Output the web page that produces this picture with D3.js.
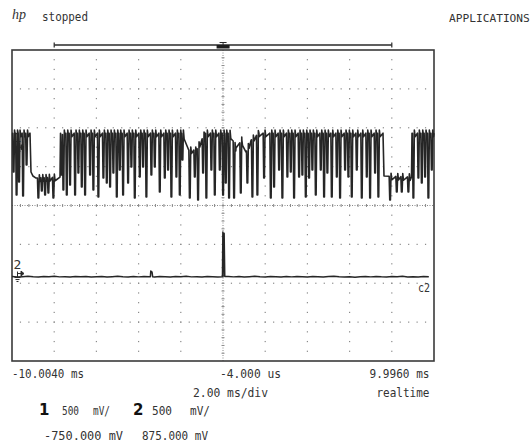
<!DOCTYPE html>
<html>
<head>
<meta charset="utf-8">
<script src="https://cdn.jsdelivr.net/npm/d3@7"></script>
<style>
  body { margin: 0; background: #fff; }
  svg text { font-family: "DejaVu Sans Mono", monospace; font-size: 13px; fill: #333; }
</style>
</head>
<body>
<svg id="scope" width="532" height="447"></svg>
<script>
// ---- Timebase / channel settings ----
const timeRange = [-10.004, 9.996];   // ms at left / right screen edge
const timePerDiv = 2;                 // ms/div
const ch1Scale = 500, ch1Offset = -750; // mV/div, mV at screen centre
const ch2Scale = 500, ch2Offset = 875;

// ---- Channel 1: level envelope (ms, mV) ----
const ch1LevelT = [-10.004, -9.151, -9.104, -9.009, -8.867, -7.729, -7.705, -1.88, -1.63, -1.26, -0.857,
                   0.328, 0.612, 0.89, 1.086, 1.33, 1.70, 7.579, 7.626, 8.930, 8.953, 9.996];
const ch1LevelV = [180, 180, -319, -371, -397, -384, 180, 180, -37, -37, 180,
                   180, -11, 92, -63, 92, 180, 180, -371, -384, 180, 180];

// ---- Channel 1: negative-going pulses (centre ms, lowest mV) ----
const ch1PulseT = [-9.933, -9.791, -9.672, -9.483, -9.317,
  -8.758, -8.596, -8.440, -8.284, -8.047,
  -7.66, -7.573, -7.412, -7.255, -7.018, -6.862, -6.701, -6.544, -6.307, -6.151,
  -5.914, -5.677, -5.516, -5.359, -5.203, -5.042, -4.900, -4.743, -4.506, -4.350,
  -4.189, -3.952, -3.796, -3.639, -3.402, -3.241, -3.004, -2.767, -2.611, -2.454,
  -2.217, -2.056, -1.93, -1.582, -1.345, -1.189, -0.952, -0.796, -0.559, -0.397,
  -0.161, -0.004, 0.124, 0.280, 0.517, 0.835, 1.148, 1.385, 1.622, 1.939,
  2.257, 2.413, 2.650, 2.806, 3.043, 3.204, 3.361, 3.598, 3.754, 3.915,
  4.072, 4.228, 4.389, 4.626, 4.783, 4.939, 5.148, 5.385, 5.541, 5.778,
  5.934, 6.095, 6.332, 6.569, 6.806, 6.963, 7.200, 7.356,
  7.911, 8.228, 8.465, 8.778,
  9.015, 9.252, 9.413, 9.569, 9.726, 9.887];
const ch1PulseV = [-319, -615, -448, -628, -229,
  -654, -564, -615, -589, -654,
  -358, -551, -615, -487, -615, -332, -512, -615, -358, -551,
  -641, -397, -461, -512, -332, -641, -294, -615, -461, -255,
  -654, -384, -255, -641, -358, -255, -576, -397, -294, -641,
  -384, -615, -165, -654, -384, -679, -332, -654, -294, -615,
  -294, -615, -461, -654, -654, -589, -461, -641, -615, -397,
  -654, -512, -294, -654, -384, -319, -654, -384, -358, -641,
  -397, -294, -615, -294, -641, -332, -641, -384, -654, -294,
  -384, -641, -294, -654, -384, -654, -332, -641,
  -679, -576, -576, -576,
  -654, -397, -461, -384, -654, -294];

// ---- Channel 2: baseline every 0.25 ms from -10 ms (mV) ----
const ch2Start = -10, ch2Step = 0.25;
const ch2Base = [
  -38, -44, -40, -35, -42, -46, -39, -41, -36, -43,
  -40, -45, -38, -42, -37, -44, -41, -39, -46, -40,
  -36, -42, -45, -39, -43, -38, -40, -44, -37, -41,
  -45, -39, -42, -36, -43, -40, -46, -38, -41, -44,
  -40, -37, -43, -39, -45, -41, -36, -42, -44, -38,
  -41, -46, -39, -43, -37, -40, -44, -38, -42, -45,
  -39, -36, -42, -44, -40, -47, -41, -38, -43, -37,
  -42, -45, -39, -41, -36, -44, -40, -46, -38, -42,
  -40];
// Channel 2 glitches (ms, peak mV)
const ch2SpikeT = [-3.417, 0.0];
const ch2SpikeV = [33, 534];

// ---- Screen text ----
const timeLabels = ["-10.0040 ms", "-4.000 us", "9.9960 ms"];
const timebaseLabel = "2.00 ms/div";
const modeLabel = "realtime";
const statusLabel = "stopped";
const menuLabel = "APPLICATIONS";

// ---- Layout ----
const svg = d3.select("#scope");
const frame = { x0: 12, x1: 434, y0: 50, y1: 361 };
const gx = d3.scaleLinear().domain([0, 10]).range([frame.x0, frame.x1]);
const gy = d3.scaleLinear().domain([0, 8]).range([frame.y0, frame.y1]);
const x = d3.scaleLinear().domain(timeRange).range([frame.x0, frame.x1]);
const y1 = d3.scaleLinear().domain([ch1Offset - 4 * ch1Scale, ch1Offset + 4 * ch1Scale]).range([frame.y1, frame.y0]);
const y2 = d3.scaleLinear().domain([ch2Offset - 4 * ch2Scale, ch2Offset + 4 * ch2Scale]).range([frame.y1, frame.y0]);

// narrow, tall readout text fitted to a given width
function label(px, py, str, width, anchor) {
  const t = svg.append("text").attr("x", px).attr("y", py).text(str);
  if (anchor) t.attr("text-anchor", anchor);
  if (width) t.attr("textLength", width).attr("lengthAdjust", "spacingAndGlyphs");
  return t;
}

// ---- Graticule ----
const grid = svg.append("g").attr("fill", "#8a8a8a");
const dots = [];
for (let j = 1; j < 10; j++) {
  if (j === 5) continue;
  for (let k = 1; k < 32; k++) dots.push([gx(j), gy(k / 4)]);
}
for (let i = 1; i < 8; i++) {
  if (i === 4) continue;
  for (let m = 1; m < 50; m++) dots.push([gx(m / 5), gy(i)]);
}
grid.selectAll("rect.dot").data(dots).join("rect")
  .attr("class", "dot")
  .attr("x", d => d[0] - 0.6).attr("y", d => d[1] - 0.6)
  .attr("width", 1.2).attr("height", 1.2);

// centre axes: fine dotted line with minor ticks every 1/5 div
const axisG = svg.append("g").attr("stroke", "#8a8a8a").attr("stroke-width", 1);
axisG.append("line").attr("x1", gx(0)).attr("x2", gx(10)).attr("y1", gy(4)).attr("y2", gy(4))
  .attr("stroke-dasharray", "1,1.5");
axisG.append("line").attr("x1", gx(5)).attr("x2", gx(5)).attr("y1", gy(0)).attr("y2", gy(8))
  .attr("stroke-dasharray", "1,1.5");
axisG.selectAll("line.hx").data(d3.range(1, 50)).join("line").attr("class", "hx")
  .attr("x1", m => gx(m / 5)).attr("x2", m => gx(m / 5))
  .attr("y1", gy(4) - 1.5).attr("y2", gy(4) + 1.5);
axisG.selectAll("line.vy").data(d3.range(1, 40)).join("line").attr("class", "vy")
  .attr("y1", k => gy(k / 5)).attr("y2", k => gy(k / 5))
  .attr("x1", gx(5) - 1.5).attr("x2", gx(5) + 1.5);

// ---- Frame ----
svg.append("rect")
  .attr("x", frame.x0).attr("y", frame.y0)
  .attr("width", frame.x1 - frame.x0).attr("height", frame.y1 - frame.y0)
  .attr("fill", "none").attr("stroke", "#3a3a3a").attr("stroke-width", 1.6);

// ---- Memory bar and trigger marker above the grid ----
const bar = svg.append("g").attr("stroke", "#2a2a2a");
bar.append("line").attr("x1", gx(1)).attr("x2", gx(9)).attr("y1", 45).attr("y2", 45).attr("stroke-width", 1.3);
bar.append("line").attr("x1", gx(1)).attr("x2", gx(1)).attr("y1", 42.5).attr("y2", 47.5).attr("stroke-width", 1.2);
bar.append("line").attr("x1", gx(9)).attr("x2", gx(9)).attr("y1", 42.5).attr("y2", 47.5).attr("stroke-width", 1.2);
const tx = x(0);
svg.append("rect").attr("x", tx - 6.5).attr("y", 45).attr("width", 13).attr("height", 3.5).attr("fill", "#1e1e1e");
bar.append("line").attr("x1", tx - 3.5).attr("x2", tx + 3.5).attr("y1", 42.5).attr("y2", 42.5).attr("stroke-width", 1);
bar.append("line").attr("x1", tx).attr("x2", tx).attr("y1", 42.5).attr("y2", 45).attr("stroke-width", 1);

// ---- Ground reference markers ----
function groundMarker(name, yPos) {
  const g = svg.append("g").attr("stroke", "#2a2a2a").attr("fill", "none").attr("stroke-width", 1);
  label(13.5, yPos - 5, name).style("font-size", "13px");
  g.append("line").attr("x1", 17.5).attr("x2", 21).attr("y1", yPos).attr("y2", yPos);
  g.append("path").attr("d", `M21,${yPos - 2.5}L24,${yPos}L21,${yPos + 2.5}Z`).attr("fill", "#2a2a2a");
  g.append("line").attr("x1", 17.5).attr("x2", 17.5).attr("y1", yPos - 2).attr("y2", yPos + 3.5);
  g.append("line").attr("x1", 14.5).attr("x2", 20.5).attr("y1", yPos + 4).attr("y2", yPos + 4);
  g.append("line").attr("x1", 15.5).attr("x2", 19.5).attr("y1", yPos + 6).attr("y2", yPos + 6);
  g.append("line").attr("x1", 16.5).attr("x2", 18.5).attr("y1", yPos + 8).attr("y2", yPos + 8);
}
groundMarker("1", y1(0));
groundMarker("2", y2(0));

// ---- Channel 1 trace ----
const level = d3.scaleLinear().domain(ch1LevelT).range(ch1LevelV).clamp(true);
const pw = { a: 0.04, b: 0.012, c: 0.02, d: 0.05, o: 0.085 }; // pulse edge timing (ms)
const pulses = ch1PulseT.map((t, i) => ({ t, v: ch1PulseV[i] }));
let times = ch1LevelT.slice();
pulses.forEach(p => times.push(p.t - pw.a, p.t - pw.b, p.t + pw.c, p.t + pw.d, p.t + pw.o));
times = Array.from(new Set(times)).sort((a, b) => a - b);
function ch1At(t) {
  let v = level(t);
  for (const p of pulses) {
    const s0 = p.t - pw.a, s1 = p.t - pw.b, s2 = p.t + pw.c, s3 = p.t + pw.d;
    if (Math.abs(t - (p.t + pw.o)) < 1e-9) { v = level(t) - 45; continue; } // small ringing after each pulse
    if (t < s0 || t > s3) continue;
    let pv;
    if (t <= s1) pv = level(s0) + (p.v - level(s0)) * (t - s0) / (s1 - s0);
    else if (t <= s2) pv = p.v;
    else pv = p.v + (level(s3) + 40 - p.v) * (t - s2) / (s3 - s2);
    v = t > s2 ? pv : Math.min(v, pv);
  }
  return v;
}
const ch1Pts = times.map(t => [t, ch1At(t)]);
const line1 = d3.line().x(d => x(d[0])).y(d => y1(d[1]));
svg.append("path").datum(ch1Pts).attr("d", line1)
  .attr("fill", "none").attr("stroke", "#262626").attr("stroke-width", 1.6).attr("stroke-linejoin", "round");

// ---- Channel 2 trace ----
let ch2Pts = ch2Base.map((v, i) => [ch2Start + i * ch2Step, v]);
ch2SpikeT.forEach((t, i) => {
  const base = d3.scaleLinear().domain(ch2Pts.map(d => d[0])).range(ch2Pts.map(d => d[1]));
  ch2Pts.push([t - 0.03, base(t - 0.03)], [t - 0.01, ch2SpikeV[i]], [t + 0.05, ch2SpikeV[i] - 15], [t + 0.08, base(t + 0.08)]);
});
ch2Pts = ch2Pts.filter(d => d[0] >= timeRange[0] && d[0] <= timeRange[1]).sort((a, b) => a[0] - b[0]);
ch2Pts.unshift([timeRange[0], ch2Base[0]]);
const line2 = d3.line().x(d => x(d[0])).y(d => y2(d[1]));
svg.append("path").datum(ch2Pts).attr("d", line2)
  .attr("fill", "none").attr("stroke", "#262626").attr("stroke-width", 1.5).attr("stroke-linejoin", "round");

label(430, 291.5, "c2", 12, "end");

// ---- Header ----
svg.append("text").attr("x", 12).attr("y", 19)
  .style("font-family", "'Liberation Serif', serif").style("font-style", "italic")
  .style("font-size", "14px").text("hp");
label(42, 20.5, statusLabel, 46);
svg.append("text").attr("x", 449).attr("y", 21.5).style("font-size", "11.2px").text(menuLabel);

// ---- Time readouts ----
label(12, 378, timeLabels[0], 72);
label(220, 378, timeLabels[1], 61);
label(429.5, 378, timeLabels[2], 60, "end");
label(193, 397, timebaseLabel, 75);
label(429.5, 397, modeLabel, 53, "end");

// ---- Channel readouts ----
function bigNum(px, str) {
  svg.append("text").attr("x", px).attr("y", 415)
    .style("font-family", "'DejaVu Sans', sans-serif").style("font-size", "15px")
    .style("font-weight", "bold").style("fill", "#111").text(str);
}
bigNum(39, "1");
bigNum(133, "2");
label(62, 415, `${ch1Scale}`, 17);
label(93, 415, "mV/", 17);
label(152, 415, `${ch2Scale}`, 20);
label(190, 415, "mV/", 20);
label(44, 440, `${d3.format(".3f")(ch1Offset).replace("\u2212", "-")}  mV`, 79);
label(142, 440, `${d3.format(".3f")(ch2Offset)} mV`, 66);
</script>
</body>
</html>
